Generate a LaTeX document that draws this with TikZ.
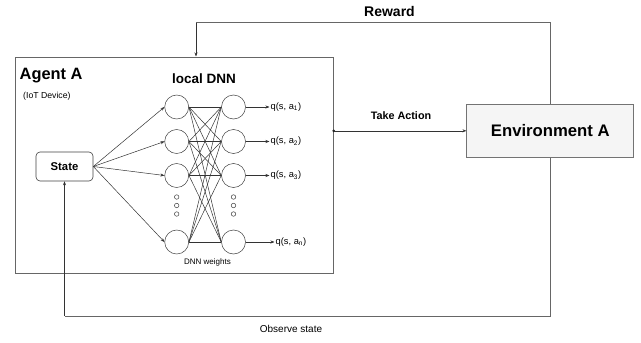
\documentclass[tikz,border=0pt]{standalone}
\usepackage{fontspec}
\setmainfont{Liberation Sans}
\usetikzlibrary{arrows.meta}
\begin{document}
\begin{tikzpicture}[x=1pt,y=-1pt,
  wire/.style={draw=black!80, line width=0.5pt},
  arr/.style={wire,-{Stealth[length=4pt,width=3pt]}},
  frame/.style={draw=black!60, line width=0.7pt},
  neuron/.style={circle, draw=black!75, line width=0.5pt, minimum size=24pt, inner sep=0pt},
  dotnode/.style={circle, draw=black!75, line width=0.5pt, minimum size=4.5pt, inner sep=0pt},
  qlabel/.style={anchor=west, font=\fontsize{9.3}{10}\selectfont, inner sep=1pt},
]
\useasboundingbox (0,0) rectangle (641,343);

% agent frame and environment box
\node[frame, minimum width=318pt, minimum height=216pt, inner sep=0pt, anchor=north west] (agent) at (15,56.5) {};
\node[draw=black!55, fill=black!4, line width=0.7pt, minimum width=167pt, minimum height=53pt, inner sep=0pt,
      font=\bfseries\fontsize{16.7}{18}\selectfont] (env) at (550.3,130.8) {Environment A};

% titles
\node[anchor=west, inner sep=0pt, font=\bfseries\fontsize{16.4}{18}\selectfont] (agentname) at (19.5,76) {Agent A};
\node[anchor=west, inner sep=0pt, font=\fontsize{8.7}{10}\selectfont] (device) at (23,96) {(IoT Device)};
\node[font=\bfseries\fontsize{13.5}{15}\selectfont] (dnntitle) at (204,79) {local DNN};
\node[font=\fontsize{8}{9}\selectfont] (weights) at (207.5,262.7) {DNN weights};

% state box
\node[draw=black!75, line width=0.6pt, rounded corners=4pt, minimum width=57pt, minimum height=29pt, inner sep=0pt,
      font=\bfseries\fontsize{11.3}{12}\selectfont] (state) at (64.5,166.5) {State};

% network layers
\foreach \i/\y in {1/107, 2/141.5, 3/175.5, 4/242} {
  \node[neuron] (L\i) at (176.7,\y) {};
  \node[neuron] (R\i) at (233.5,\y) {};
}
\foreach \y [count=\k] in {197, 205.5, 214} {
  \node[dotnode] (dl\k) at (176.7,\y) {};
  \node[dotnode] (dr\k) at (233.5,\y) {};
}

% state to input layer
\foreach \i in {1,...,4} \draw[arr] (state.east) -- (L\i.west);
% weights between layers
\foreach \i in {1,...,4} \foreach \j in {1,...,4} \draw[wire] (L\i.east) -- (R\j.west);

% outputs
\node[qlabel] (q1) at (269.5,107) {q(s, a\textsubscript{1})};
\node[qlabel] (q2) at (269.5,141.5) {q(s, a\textsubscript{2})};
\node[qlabel] (q3) at (269.5,175.5) {q(s, a\textsubscript{3})};
\node[qlabel] (q4) at (274.5,242) {q(s, a\textsubscript{n})};
\foreach \i in {1,...,4} \draw[arr] (R\i.east) -- (q\i.west);

% take action
\coordinate (ta) at (agent.east |- env.west);
\fill[black!85] (ta) circle (1.5pt);
\draw[arr] (ta) -- (env.west);
\node[font=\bfseries\fontsize{10.8}{12}\selectfont] (talabel) at (401,116) {Take Action};

% reward loop
\coordinate (rw1) at (env.north |- 0,22.7);
\coordinate (rw2) at (196,22.7);
\draw[frame, line width=0.6pt] (env.north) -- (rw1) -- (rw2);
\draw[arr] (rw2) -- (rw2 |- agent.north);
\node[font=\bfseries\fontsize{14}{16}\selectfont] (rwlabel) at (389.5,11) {Reward};

% observation loop
\coordinate (ob1) at (env.south |- 0,316);
\coordinate (ob2) at (state.south |- 0,316);
\draw[frame, line width=0.6pt] (env.south) -- (ob1) -- (ob2);
\draw[arr] (ob2) -- (state.south);
\node[font=\fontsize{10}{12}\selectfont] (oblabel) at (291,329) {Observe state};
\end{tikzpicture}
\end{document}
